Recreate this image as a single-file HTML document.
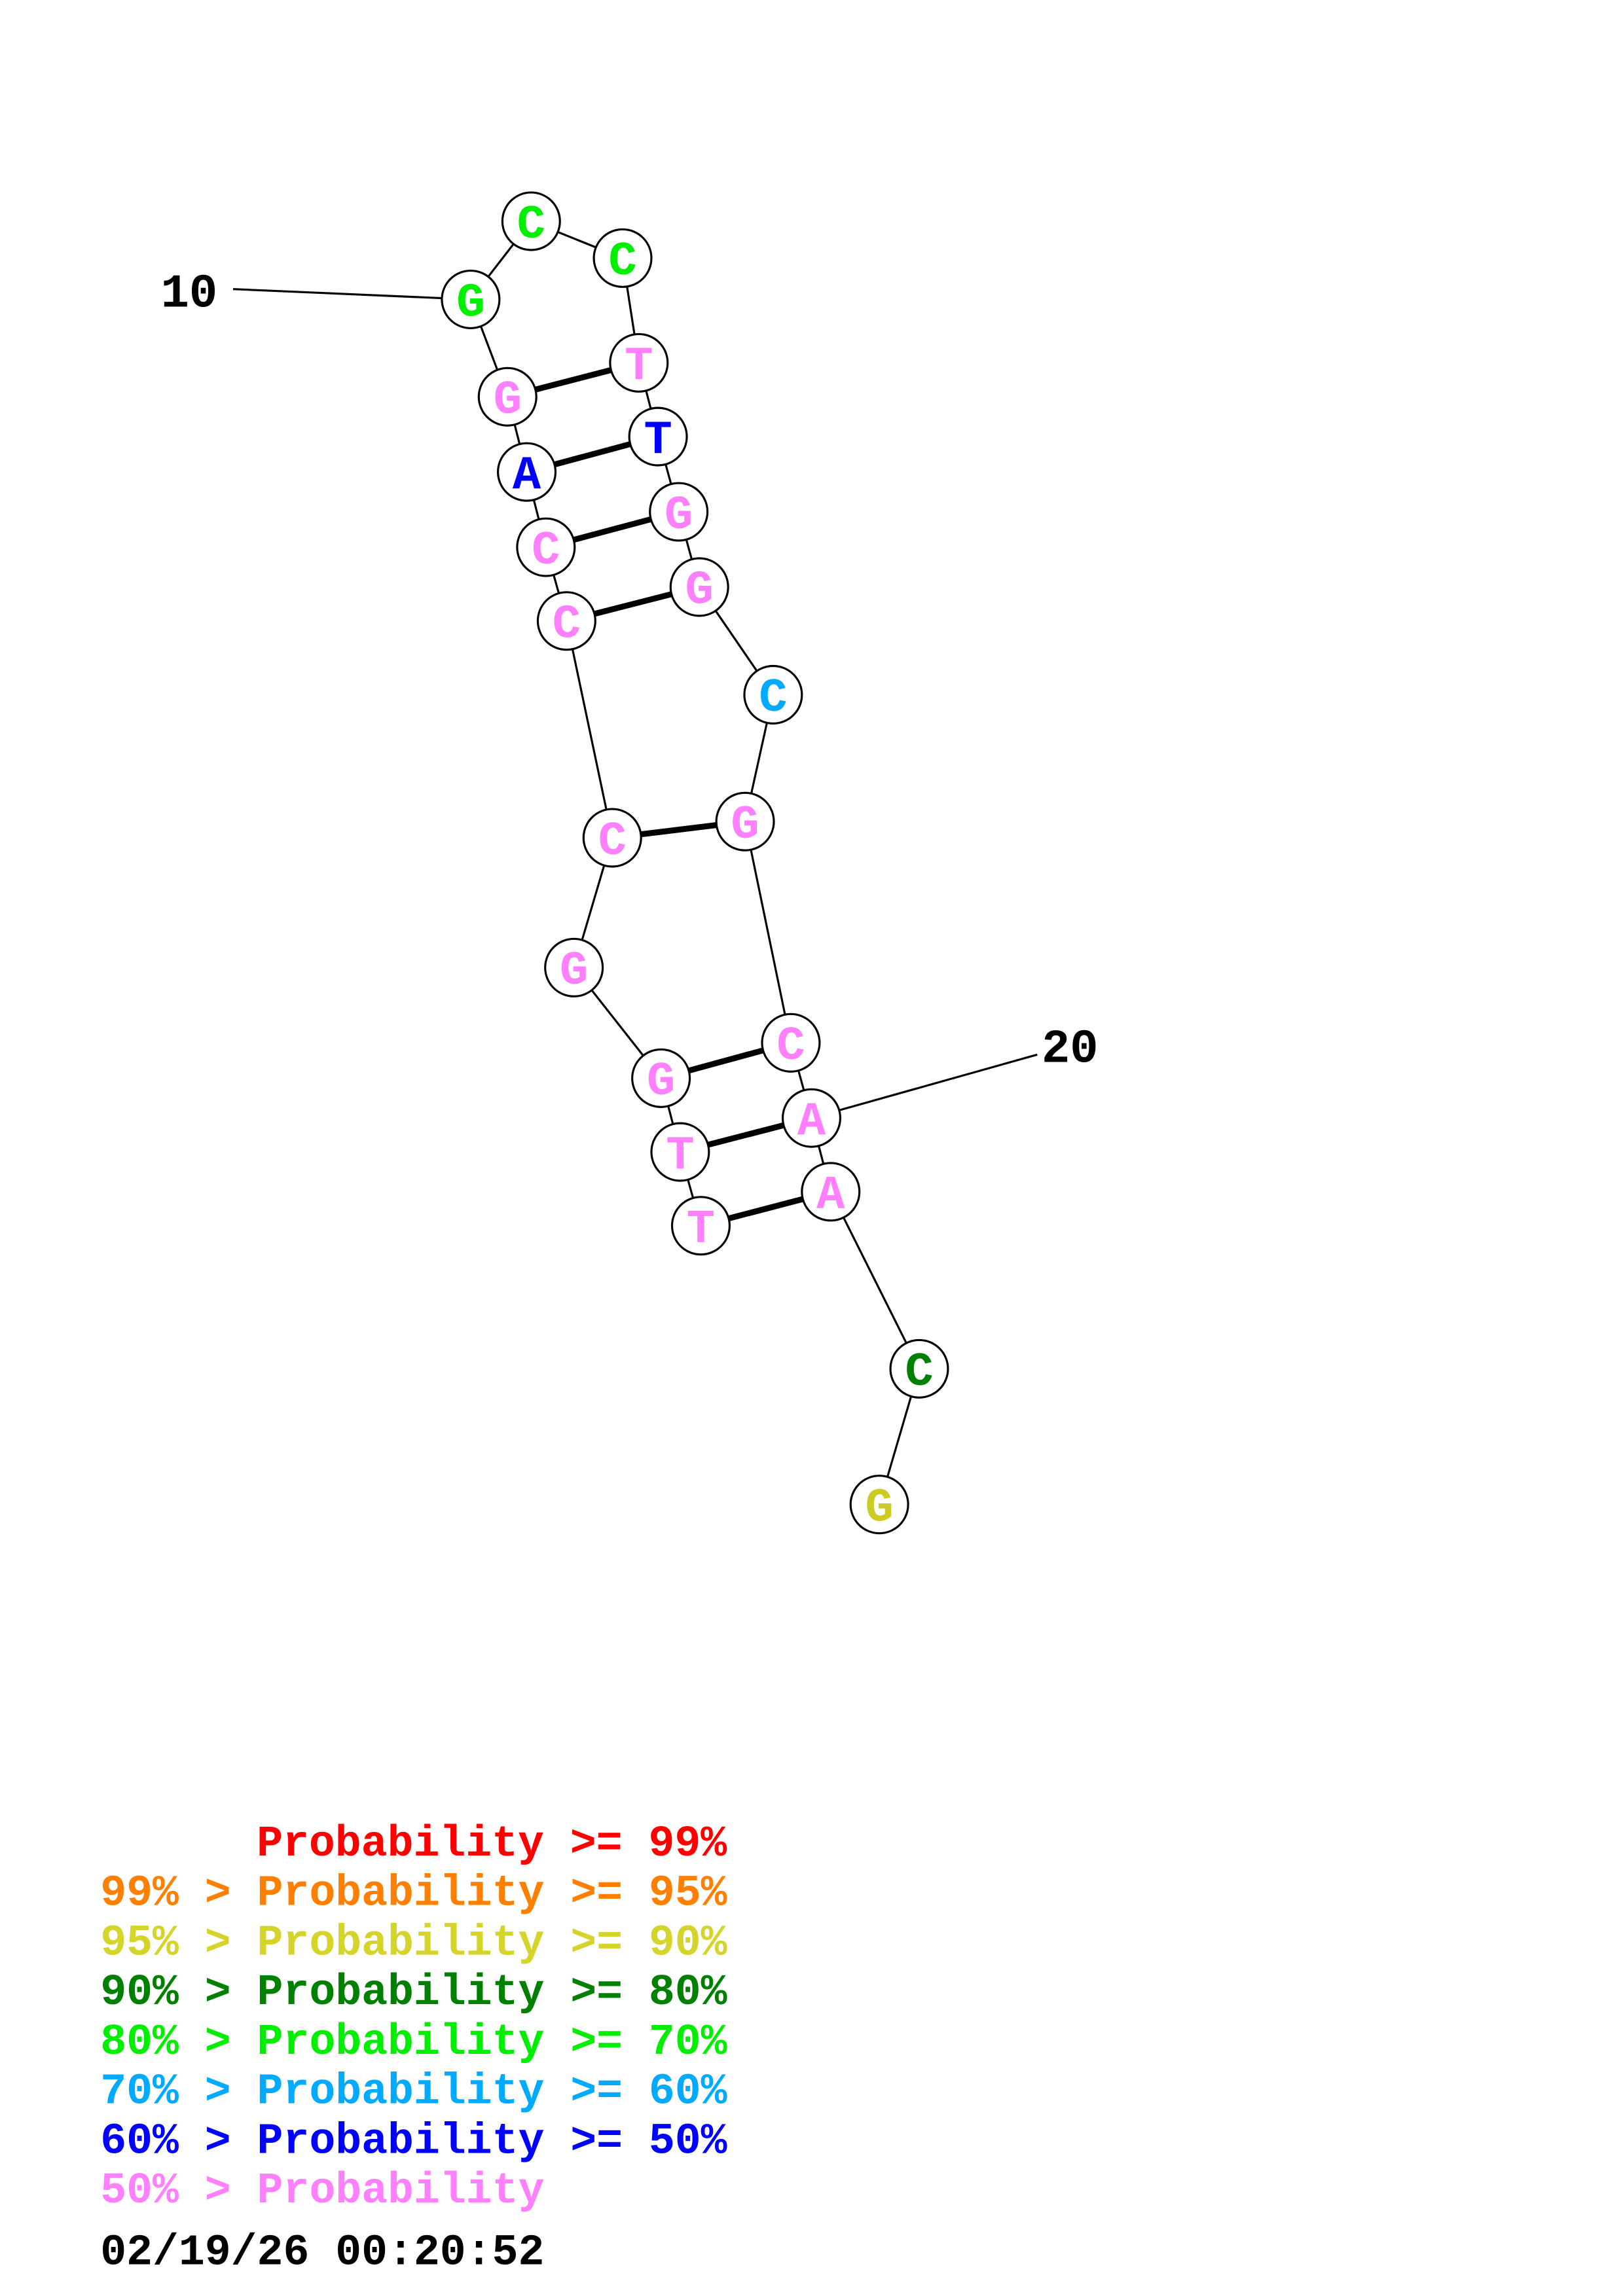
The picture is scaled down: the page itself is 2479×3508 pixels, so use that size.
<!DOCTYPE html>
<html><head><meta charset="utf-8"><style>html,body{margin:0;padding:0;background:#fff}svg{display:block}</style></head>
<body>
<svg width="2479" height="3508" viewBox="0 0 2479 3508" xmlns="http://www.w3.org/2000/svg">
<rect width="2479" height="3508" fill="#fff"/>
<g transform="scale(2.2536)">
<g transform="translate(-2,-3)">
<g stroke="#000" stroke-width="1.4" fill="none">
<line x1="321" y1="206" x2="160" y2="199"/>
<line x1="552" y1="761" x2="705" y2="718"/>
<polyline points="477,834 463,784 450,734 391,659 417,571 386,424 372,374 359,323 346,272 321,206 362,153 424,178 435,249 448,299 462,350 476,401 526,474 507,560 538,710 552,761 565,811 625,931 598,1023"/>
</g>
<g stroke="#000" stroke-width="4">
<line x1="346" y1="272" x2="435" y2="249"/>
<line x1="359" y1="323" x2="448" y2="299"/>
<line x1="372" y1="374" x2="462" y2="350"/>
<line x1="386" y1="424" x2="476" y2="401"/>
<line x1="417" y1="571" x2="507" y2="560"/>
<line x1="450" y1="734" x2="538" y2="710"/>
<line x1="463" y1="784" x2="552" y2="761"/>
<line x1="477" y1="834" x2="565" y2="811"/>
</g>
<g stroke="#000" stroke-width="1.4" fill="#fff">
<circle cx="321" cy="206" r="19.5"/><circle cx="362" cy="153" r="19.5"/><circle cx="424" cy="178" r="19.5"/>
<circle cx="435" cy="249" r="19.5"/><circle cx="448" cy="299" r="19.5"/><circle cx="462" cy="350" r="19.5"/>
<circle cx="476" cy="401" r="19.5"/><circle cx="526" cy="474" r="19.5"/><circle cx="507" cy="560" r="19.5"/>
<circle cx="538" cy="710" r="19.5"/><circle cx="552" cy="761" r="19.5"/><circle cx="565" cy="811" r="19.5"/>
<circle cx="625" cy="931" r="19.5"/><circle cx="598" cy="1023" r="19.5"/>
<circle cx="346" cy="272" r="19.5"/><circle cx="359" cy="323" r="19.5"/><circle cx="372" cy="374" r="19.5"/>
<circle cx="386" cy="424" r="19.5"/><circle cx="417" cy="571" r="19.5"/><circle cx="391" cy="659" r="19.5"/>
<circle cx="450" cy="734" r="19.5"/><circle cx="463" cy="784" r="19.5"/><circle cx="477" cy="834" r="19.5"/>
</g>
<g font-family="'Liberation Mono',monospace" font-weight="bold" font-size="32" text-anchor="middle">
<text x="321" y="217" fill="#00ee00">G</text><text x="362" y="164" fill="#00ee00">C</text><text x="424" y="189" fill="#00ee00">C</text>
<text x="435" y="260" fill="#ff80ff">T</text><text x="448" y="310" fill="#0000ff">T</text><text x="462" y="361" fill="#ff80ff">G</text>
<text x="476" y="412" fill="#ff80ff">G</text><text x="526" y="485" fill="#00aaff">C</text><text x="507" y="571" fill="#ff80ff">G</text>
<text x="538" y="721" fill="#ff80ff">C</text><text x="552" y="772" fill="#ff80ff">A</text><text x="565" y="822" fill="#ff80ff">A</text>
<text x="625" y="942" fill="#008000">C</text><text x="598" y="1034" fill="#cccc22">G</text>
<text x="346" y="283" fill="#ff80ff">G</text><text x="359" y="334" fill="#0000ff">A</text><text x="372" y="385" fill="#ff80ff">C</text>
<text x="386" y="435" fill="#ff80ff">C</text><text x="417" y="582" fill="#ff80ff">C</text><text x="391" y="670" fill="#ff80ff">G</text>
<text x="450" y="745" fill="#ff80ff">G</text><text x="463" y="795" fill="#ff80ff">T</text><text x="477" y="845" fill="#ff80ff">T</text>
</g>
<g font-family="'Liberation Mono',monospace" font-weight="bold" font-size="32" fill="#000">
<text x="111" y="211">10</text><text x="708" y="723">20</text>
</g>
</g>
<g font-family="'Liberation Mono',monospace" font-weight="bold" font-size="29.5">
<text x="174" y="1258" fill="#ff0000">Probability &gt;= 99%</text>
<text x="68" y="1291.6" fill="#ff8000">99% &gt; Probability &gt;= 95%</text>
<text x="68" y="1325.2" fill="#d4d42a">95% &gt; Probability &gt;= 90%</text>
<text x="68" y="1358.8" fill="#008000">90% &gt; Probability &gt;= 80%</text>
<text x="68" y="1392.4" fill="#00ee00">80% &gt; Probability &gt;= 70%</text>
<text x="68" y="1426" fill="#00aaff">70% &gt; Probability &gt;= 60%</text>
<text x="68" y="1459.6" fill="#0000ff">60% &gt; Probability &gt;= 50%</text>
<text x="68" y="1493.2" fill="#ff80ff">50% &gt; Probability</text>
<text x="68" y="1535" fill="#000">02/19/26 00:20:52</text>
</g>
</g>
</svg>
</body></html>
